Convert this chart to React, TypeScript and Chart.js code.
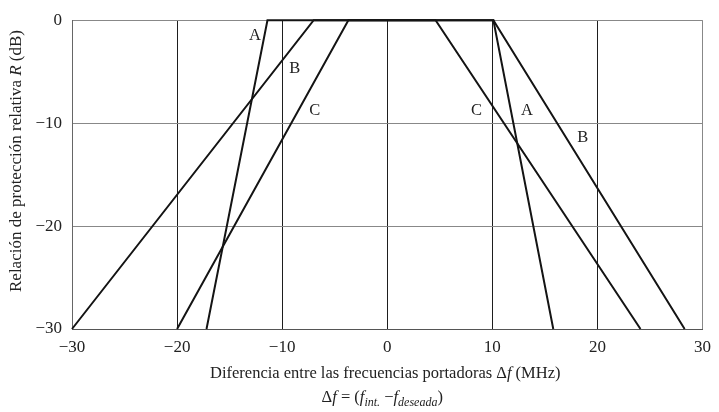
import React, { useEffect, useRef } from "react";
import { Chart, registerables } from "chart.js";

Chart.register(...registerables);

// Curve vertices (Δf in MHz, R in dB)
const curveA_x = [-17.2, -11.4, 10.1, 15.8];
const curveA_y = [-30, 0, 0, -30];
const curveB_x = [-30, -7.0, 10.1, 28.3];
const curveB_y = [-30, 0, 0, -30];
const curveC_x = [-20, -3.7, 4.6, 24.1];
const curveC_y = [-30, 0, 0, -30];

// Curve labels (text, Δf, R)
const labelText = ["A", "B", "C", "C", "A", "B"];
const labelX = [-12.6, -8.8, -6.9, 8.5, 13.3, 18.6];
const labelY = [-1.5, -4.75, -8.8, -8.8, -8.8, -11.4];

const xMin = -30;
const xMax = 30;
const yMin = -30;
const yMax = 0;
const tickStep = 10;

const FONT = "'Liberation Serif', 'Times New Roman', serif";
const TEXT = "#222";

type Run = { t: string; italic?: boolean; sub?: boolean };

function runFont(r: Run, size: number) {
  const s = r.sub ? Math.round(size * 0.72) : size;
  return `${r.italic ? "italic " : ""}${s}px ${FONT}`;
}

function drawRuns(ctx: CanvasRenderingContext2D, runs: Run[], cx: number, cy: number, size: number) {
  let total = 0;
  const widths = runs.map((r) => {
    ctx.font = runFont(r, size);
    const w = ctx.measureText(r.t).width;
    total += w;
    return w;
  });
  let x = cx - total / 2;
  ctx.textBaseline = "alphabetic";
  ctx.textAlign = "left";
  const base = cy + size * 0.33;
  runs.forEach((r, i) => {
    ctx.font = runFont(r, size);
    ctx.fillText(r.t, x, r.sub ? base + size * 0.22 : base);
    x += widths[i];
  });
}

const fmt = (v: number) => (v < 0 ? "\u2212" + Math.abs(v) : String(v));

const overlayPlugin = {
  id: "overlay",
  afterDraw(chart: any) {
    const ctx: CanvasRenderingContext2D = chart.ctx;
    const xs = chart.scales.x;
    const ys = chart.scales.y;
    const area = chart.chartArea;
    ctx.save();
    ctx.fillStyle = TEXT;
    ctx.font = `16.5px ${FONT}`;
    ctx.textAlign = "center";
    ctx.textBaseline = "middle";
    labelText.forEach((t, i) => {
      ctx.fillText(t, xs.getPixelForValue(labelX[i]), ys.getPixelForValue(labelY[i]));
    });

    const cx = (area.left + area.right) / 2;
    drawRuns(
      ctx,
      [
        { t: "Diferencia entre las frecuencias portadoras \u0394" },
        { t: "f", italic: true },
        { t: " (MHz)" },
      ],
      cx - 2,
      373,
      16.5
    );
    drawRuns(
      ctx,
      [
        { t: "\u0394" },
        { t: "f", italic: true },
        { t: " = (" },
        { t: "f", italic: true },
        { t: "int.", italic: true, sub: true },
        { t: " \u2212" },
        { t: "f", italic: true },
        { t: "deseada", italic: true, sub: true },
        { t: ")" },
      ],
      cx - 5,
      397,
      16.5
    );

    ctx.save();
    ctx.translate(15, 161);
    ctx.rotate(-Math.PI / 2);
    drawRuns(
      ctx,
      [
        { t: "Relaci\u00f3n de protecci\u00f3n relativa " },
        { t: "R", italic: true },
        { t: " (dB)" },
      ],
      0,
      0,
      17
    );
    ctx.restore();
    ctx.restore();
  },
};

function toPoints(xs: number[], ys: number[]) {
  return xs.map((x, i) => ({ x, y: ys[i] }));
}

export default function App() {
  const ref = useRef<HTMLCanvasElement | null>(null);
  useEffect(() => {
    if (!ref.current) return;
    const lineStyle = {
      showLine: true,
      borderColor: "#141414",
      backgroundColor: "#141414",
      borderWidth: 2,
      pointRadius: 0,
      fill: false,
      clip: 4,
    };
    const chart = new Chart(ref.current, {
      type: "scatter",
      data: {
        datasets: [
          { label: "A", data: toPoints(curveA_x, curveA_y), ...lineStyle },
          { label: "B", data: toPoints(curveB_x, curveB_y), ...lineStyle },
          { label: "C", data: toPoints(curveC_x, curveC_y), ...lineStyle },
        ],
      },
      options: {
        animation: false,
        responsive: false,
        layout: { padding: { left: 0, top: 9, right: 8, bottom: 0 } },
        plugins: { legend: { display: false }, tooltip: { enabled: false } },
        scales: {
          x: {
            type: "linear",
            min: xMin,
            max: xMax,
            afterFit: (s: any) => {
              s.height = 83;
            },
            ticks: {
              stepSize: tickStep,
              color: TEXT,
              font: { family: FONT, size: 17 },
              padding: 8,
              maxRotation: 0,
              callback: (v: any) => fmt(Number(v)),
            },
            grid: {
              drawTicks: false,
              color: (c: any) =>
                c.tick && (c.tick.value === xMin || c.tick.value === xMax) ? "#888" : "#1e1e1e",
              lineWidth: 1,
            },
            border: { display: true, color: "#555", width: 1 },
          },
          y: {
            type: "linear",
            min: yMin,
            max: yMax,
            afterFit: (s: any) => {
              s.width = 72;
            },
            ticks: {
              stepSize: tickStep,
              color: TEXT,
              font: { family: FONT, size: 17 },
              padding: 10,
              callback: (v: any) => fmt(Number(v)),
            },
            grid: { drawTicks: false, color: "#888", lineWidth: 1 },
            border: { display: true, color: "#666", width: 1 },
          },
        },
      },
      plugins: [overlayPlugin],
    });
    return () => chart.destroy();
  }, []);
  return (
    <div style={{ position: "fixed", left: 0, top: 0, width: 719, height: 412, background: "#fff" }}>
      <canvas ref={ref} width={719} height={412} style={{ display: "block" }} />
    </div>
  );
}
